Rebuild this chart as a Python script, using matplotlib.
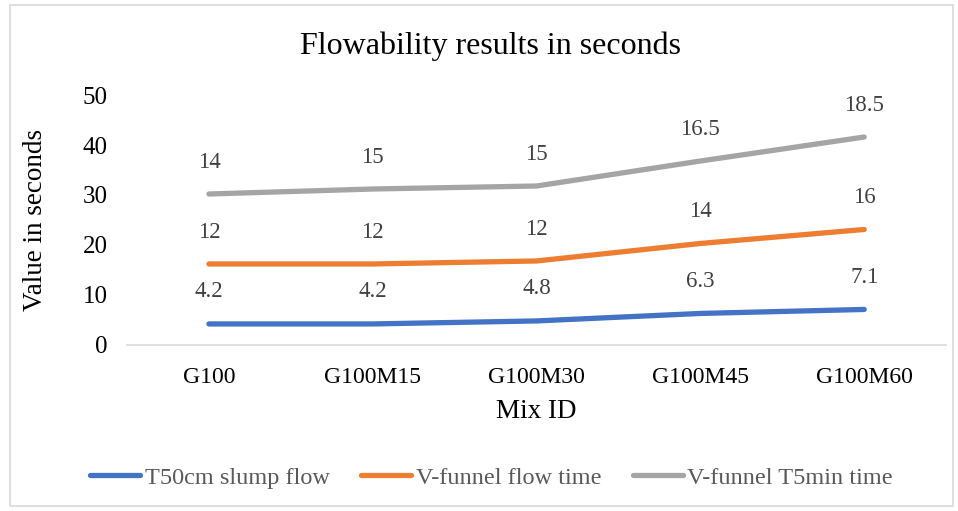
import matplotlib
matplotlib.use("Agg")
import matplotlib.pyplot as plt
import numpy as np
from matplotlib.patches import Rectangle

# stacked line chart (Excel style): each series plotted on top of the previous
mixes = ["G100", "G100M15", "G100M30", "G100M45", "G100M60"]
t50_slump = [4.2, 4.2, 4.8, 6.3, 7.1]
vfunnel_flow = [12, 12, 12, 14, 16]
vfunnel_t5 = [14, 15, 15, 16.5, 18.5]
series_names = ["T50cm slump flow", "V-funnel flow time", "V-funnel T5min time"]
colors = ["#4472C4", "#ED7D31", "#A5A5A5"]

plt.rcParams["font.family"] = ["Liberation Serif", "DejaVu Serif"]

fig = plt.figure(figsize=(9.58, 5.11), dpi=100)
ax = fig.add_axes([0.1326, 0.325, 0.855, 0.489])

x = np.arange(len(mixes))
base = np.zeros(len(mixes))
for name, vals, col in zip(series_names, [t50_slump, vfunnel_flow, vfunnel_t5], colors):
    top = base + np.array(vals)
    ax.plot(x, top, color=col, lw=3.8, solid_capstyle="round",
            solid_joinstyle="round", label=name)
    for xi, yi, v in zip(x, top, vals):
        ax.annotate(f"{v:g}", (xi, yi), textcoords="offset points",
                    xytext=(0, 23), ha="center", va="center",
                    fontsize=16.5, color="#404040")
    base = top

ax.set_xlim(-0.5, len(mixes) - 0.5)
ax.set_ylim(0, 50)
ax.set_yticks([0, 10, 20, 30, 40, 50])
ax.set_xticks(x)
ax.set_xticklabels(mixes)
ax.tick_params(axis="both", length=0, labelsize=17, colors="#000000")
ax.tick_params(axis="y", labelsize=18, pad=14)
ax.tick_params(axis="x", pad=16)
for s in ["top", "right", "left"]:
    ax.spines[s].set_visible(False)
ax.spines["bottom"].set_color("#D9D9D9")
ax.spines["bottom"].set_linewidth(1.2)

ax.set_xlabel("Mix ID", fontsize=19.5, labelpad=8)
ax.set_ylabel("Value in seconds", fontsize=19.5, labelpad=6)
ax.yaxis.set_label_coords(-0.096, 0.5)
fig.text(0.512, 0.91, "Flowability results in seconds", ha="center",
         va="center", fontsize=23)

fig.legend(loc="center", bbox_to_anchor=(0.513, 0.065), ncol=3, frameon=False,
           fontsize=17.5, handlelength=2.05, columnspacing=1.3,
           labelcolor="#595959", handletextpad=0.2)

fig.patches.append(Rectangle((0.01, 0.01), 0.985, 0.98, transform=fig.transFigure,
                             fill=False, edgecolor="#D9D9D9", lw=1.2))

fig.savefig("out.png", dpi=100)
